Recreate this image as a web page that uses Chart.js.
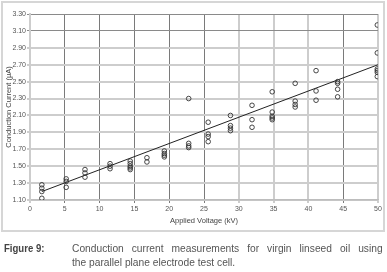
<!DOCTYPE html>
<html>
<head>
<meta charset="utf-8">
<script src="https://cdn.jsdelivr.net/npm/chart.js@4/dist/chart.umd.min.js"></script>
<style>
    body { margin: 0; background: #fff; width: 387px; height: 272px; overflow: hidden; position: relative; }
    #chart { position: absolute; left: 0; top: 0; }
    #frame { position: absolute; left: 1px; top: 1px; width: 380px; height: 227px; border: 2px solid #d6d6d6; pointer-events: none; }
    .cap { position: absolute; font-family: "Liberation Sans", Arial, sans-serif; font-size: 11px; color: #555; line-height: 14px;
           white-space: nowrap; transform-origin: 0 0; transform: scaleX(0.93); }
    #figNo { left: 4px; top: 241px; font-weight: bold; color: #444; transform: scaleX(0.87); }
    #capLine1 { left: 72px; top: 241px; width: 334px; text-align: justify; text-align-last: justify; }
    #capLine2 { left: 72px; top: 255px; }
</style>
</head>
<body>
<canvas id="chart" width="387" height="236"></canvas>
<div id="frame"></div>
<div class="cap" id="figNo">Figure 9:</div>
<div class="cap" id="capLine1">Conduction current measurements for virgin linseed oil using</div>
<div class="cap" id="capLine2">the parallel plane electrode test cell.</div>
<script>
// measured points (kV, uA)
const voltage = [
    1.7, 1.7, 1.7, 1.7,
    5.2, 5.2, 5.2,
    7.9, 7.9, 7.9,
    11.5, 11.5, 11.5,
    14.4, 14.4, 14.4, 14.4, 14.4,
    16.8, 16.8,
    19.3, 19.3, 19.3, 19.3,
    22.8, 22.8, 22.8, 22.8,
    25.6, 25.6, 25.6, 25.6,
    28.8, 28.8, 28.8, 28.8,
    31.9, 31.9, 31.9,
    34.8, 34.8, 34.8, 34.8, 34.8,
    38.1, 38.1, 38.1, 38.1,
    41.1, 41.1, 41.1,
    44.2, 44.2, 44.2, 44.2,
    49.9, 49.9, 49.9, 49.9, 49.9, 49.9
];
const current = [
    1.28, 1.24, 1.20, 1.12,
    1.35, 1.32, 1.25,
    1.46, 1.42, 1.37,
    1.53, 1.50, 1.47,
    1.56, 1.53, 1.50, 1.48, 1.46,
    1.60, 1.55,
    1.68, 1.65, 1.63, 1.61,
    2.30, 1.77, 1.74, 1.72,
    2.02, 1.88, 1.85, 1.79,
    2.10, 1.98, 1.95, 1.92,
    2.22, 2.05, 1.96,
    2.38, 2.14, 2.09, 2.07, 2.05,
    2.48, 2.27, 2.23, 2.20,
    2.63, 2.39, 2.28,
    2.50, 2.48, 2.41, 2.32,
    3.17, 2.84, 2.65, 2.63, 2.61, 2.56
];
// linear trend line end points
const trendX = [1.7, 50];
const trendY = [1.20, 2.70];

const darkX = [5, 10, 15, 20, 25, 45];   // vertical grid lines drawn darker
const darkY = [3.1, 3.3];

const tickFont = { family: '"Liberation Sans", Arial, sans-serif', size: 7 };
const titleFont = { family: '"Liberation Sans", Arial, sans-serif', size: 7.5 };

let points = voltage.map((v, i) => ({ x: v, y: current[i] }));
let trend = trendX.map((v, i) => ({ x: v, y: trendY[i] }));

function isDarkY(ctx) {
    let v = ctx.tick ? ctx.tick.value : 0;
    return darkY.some(d => Math.abs(d - v) < 0.001);
}

new Chart(document.getElementById('chart').getContext('2d'), {
    type: 'scatter',
    data: {
        datasets: [{
            data: points,
            pointStyle: 'circle',
            pointRadius: 2.3,
            backgroundColor: 'rgba(0,0,0,0)',
            borderColor: '#333',
            borderWidth: 0.9
        }, {
            data: trend,
            showLine: true,
            borderColor: '#222',
            borderWidth: 1,
            pointRadius: 0
        }]
    },
    options: {
        responsive: false,
        devicePixelRatio: 1,
        animation: false,
        layout: { padding: { left: 0, right: 9, top: 14, bottom: 0 } },
        plugins: { legend: { display: false }, tooltip: { enabled: false } },
        scales: {
            x: {
                type: 'linear', min: 0, max: 50,
                afterFit: function (scale) { scale.height = 36; },
                ticks: { stepSize: 5, font: tickFont, color: '#555', padding: 2 },
                grid: {
                    tickLength: 3,
                    color: ctx => darkX.includes(ctx.tick && ctx.tick.value) ? '#7a7a7a' : '#cdcdcd',
                    lineWidth: ctx => darkX.includes(ctx.tick && ctx.tick.value) ? 1 : 2
                },
                border: { color: '#bdbdbd', width: 1.5 },
                title: { display: true, text: 'Applied Voltage (kV)', font: titleFont, color: '#444', padding: { top: 2, bottom: 11 } }
            },
            y: {
                type: 'linear', min: 1.10, max: 3.30,
                afterFit: function (scale) { scale.width = 30; },
                ticks: { stepSize: 0.2, font: tickFont, color: '#555', padding: 1, callback: v => v.toFixed(2) },
                grid: {
                    tickLength: 3,
                    color: ctx => isDarkY(ctx) ? '#8a8a8a' : '#cdcdcd',
                    lineWidth: ctx => isDarkY(ctx) ? 1 : 2
                },
                border: { color: '#cdcdcd', width: 2 },
                title: { display: true, text: 'Conduction Current (μA)', font: titleFont, color: '#444', padding: { top: 4, bottom: 2 } }
            }
        }
    }
});
</script>
</body>
</html>
